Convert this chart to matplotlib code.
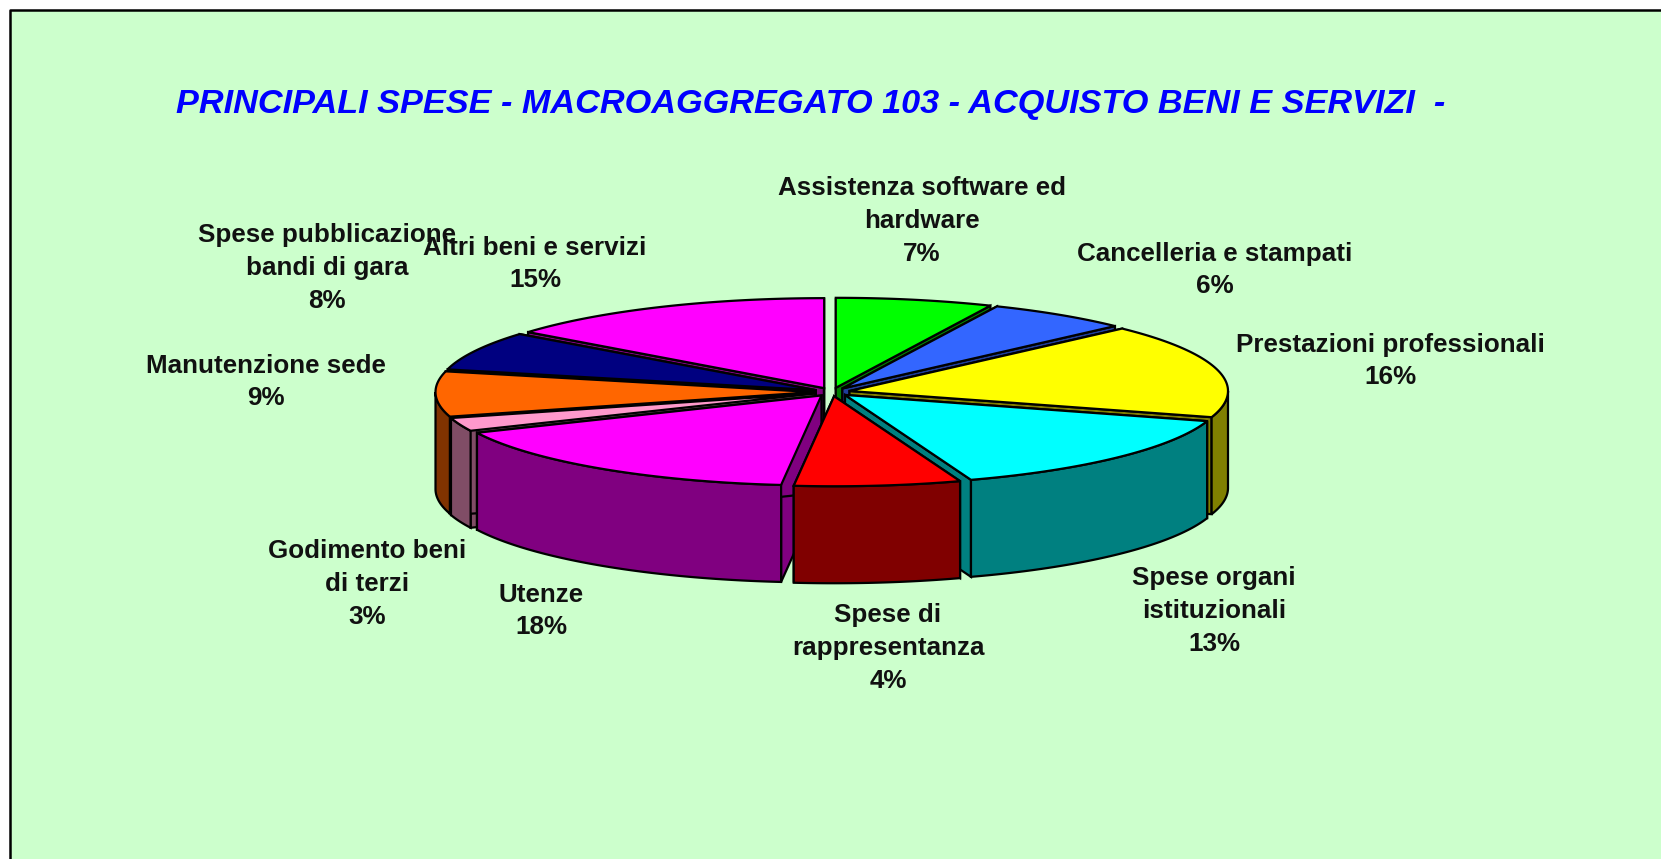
"""Exploded 3D style pie of the main expenses, macroaggregate 103"""
import numpy as np
import matplotlib
matplotlib.use('Agg')
import matplotlib.pyplot as plt

# Required info
title = 'PRINCIPALI SPESE - MACROAGGREGATO 103 - ACQUISTO BENI E SERVIZI  -'
categories = ['Assistenza software ed\nhardware', 'Cancelleria e stampati',
              'Prestazioni professionali', 'Spese organi\nistituzionali',
              'Spese di\nrappresentanza', 'Utenze', 'Godimento beni\ndi terzi',
              'Manutenzione sede', 'Spese pubblicazione\nbandi di gara',
              'Altri beni e servizi']
# percentages as printed on the chart
printed_pct = [7, 6, 16, 13, 4, 18, 3, 9, 8, 15]
# slice sizes (%) as they look in the picture, the tilt of the original
# makes them differ a bit from the printed ones
shares = [6.7, 6.1, 16.9, 14.9, 7.1, 16.5, 2.4, 8.1, 7.0, 14.3]

top_colours = ['#00FF00', '#3366FF', '#FFFF00', '#00FFFF', '#FF0000',
               '#FF00FF', '#FF99CC', '#FF6600', '#000080', '#FF00FF']
side_colours = ['#008000', '#1F3D99', '#808000', '#008080', '#800000',
                '#800080', '#804D66', '#803300', '#000040', '#800080']

# label centres in pixels
label_x = [922, 1215, 1390, 1214, 888, 541, 367, 266, 327, 535]
label_y = [221, 270, 361, 611, 648, 611, 584, 382, 268, 264]

# pie geometry in pixels
cx, cy = 832., 392.
rx, ry = 378.5, 90.
depth = 97.
explode = 18.
line = 1.6

fig = plt.figure(figsize=(16.61, 8.59), dpi=100, facecolor='white')
ax = fig.add_axes([0, 0, 1, 1])
ax.set_xlim(0, 1661)
ax.set_ylim(859, 0)
ax.axis('off')

# Chart area, only the top and left borders are in the frame
ax.fill([10, 1661, 1661, 10], [10, 10, 859, 859], color='#CCFFCC', lw=0)
ax.plot([10, 10, 1661], [859, 10, 10], color='black', lw=1.8)

ax.text(176, 104, title, color='#0000FF', fontsize=24.7, style='italic',
        weight='bold', family='Liberation Sans', ha='left', va='center')

# Slice limits, clockwise from 12 o'clock
edges = np.deg2rad(np.cumsum([0] + shares) * 360. / sum(shares))
middles = (edges[:-1] + edges[1:]) / 2.


def rim(t, x0, y0):
    # y axis points down in pixel coordinates
    return x0 + rx * np.sin(t), y0 - ry * np.cos(t)


# Paint from the back of the pie to the front
for i in np.argsort(-np.cos(middles)):
    t0, t1 = edges[i], edges[i + 1]
    x0 = cx + explode * np.sin(middles[i])
    y0 = cy - explode * ry / rx * np.cos(middles[i])

    # walls along the two cut edges
    for t in (t0, t1):
        xr, yr = rim(t, x0, y0)
        ax.fill([x0, xr, xr, x0], [y0, yr, yr + depth, y0 + depth],
                facecolor=side_colours[i], edgecolor='black', lw=line)

    # outer wall, only the front half of the rim can be seen
    lo, hi = max(t0, np.pi / 2), min(t1, 3 * np.pi / 2)
    if hi > lo:
        t = np.linspace(lo, hi, 80)
        xr, yr = rim(t, x0, y0)
        ax.fill(np.r_[xr, xr[::-1]], np.r_[yr, yr[::-1] + depth],
                facecolor=side_colours[i], edgecolor='black', lw=line)

    # top face
    t = np.linspace(t0, t1, 80)
    xr, yr = rim(t, x0, y0)
    ax.fill(np.r_[x0, xr], np.r_[y0, yr], facecolor=top_colours[i],
            edgecolor='black', lw=line)

# Labels, drawn last so they stay on top
for name, pct, x, y in zip(categories, printed_pct, label_x, label_y):
    ax.text(x, y, name + '\n' + str(pct) + '%', color='#111111', fontsize=18.7,
            weight='bold', family='Liberation Sans', ha='center', va='center',
            linespacing=1.45)

fig.savefig('out.png', dpi=100, facecolor=fig.get_facecolor())
